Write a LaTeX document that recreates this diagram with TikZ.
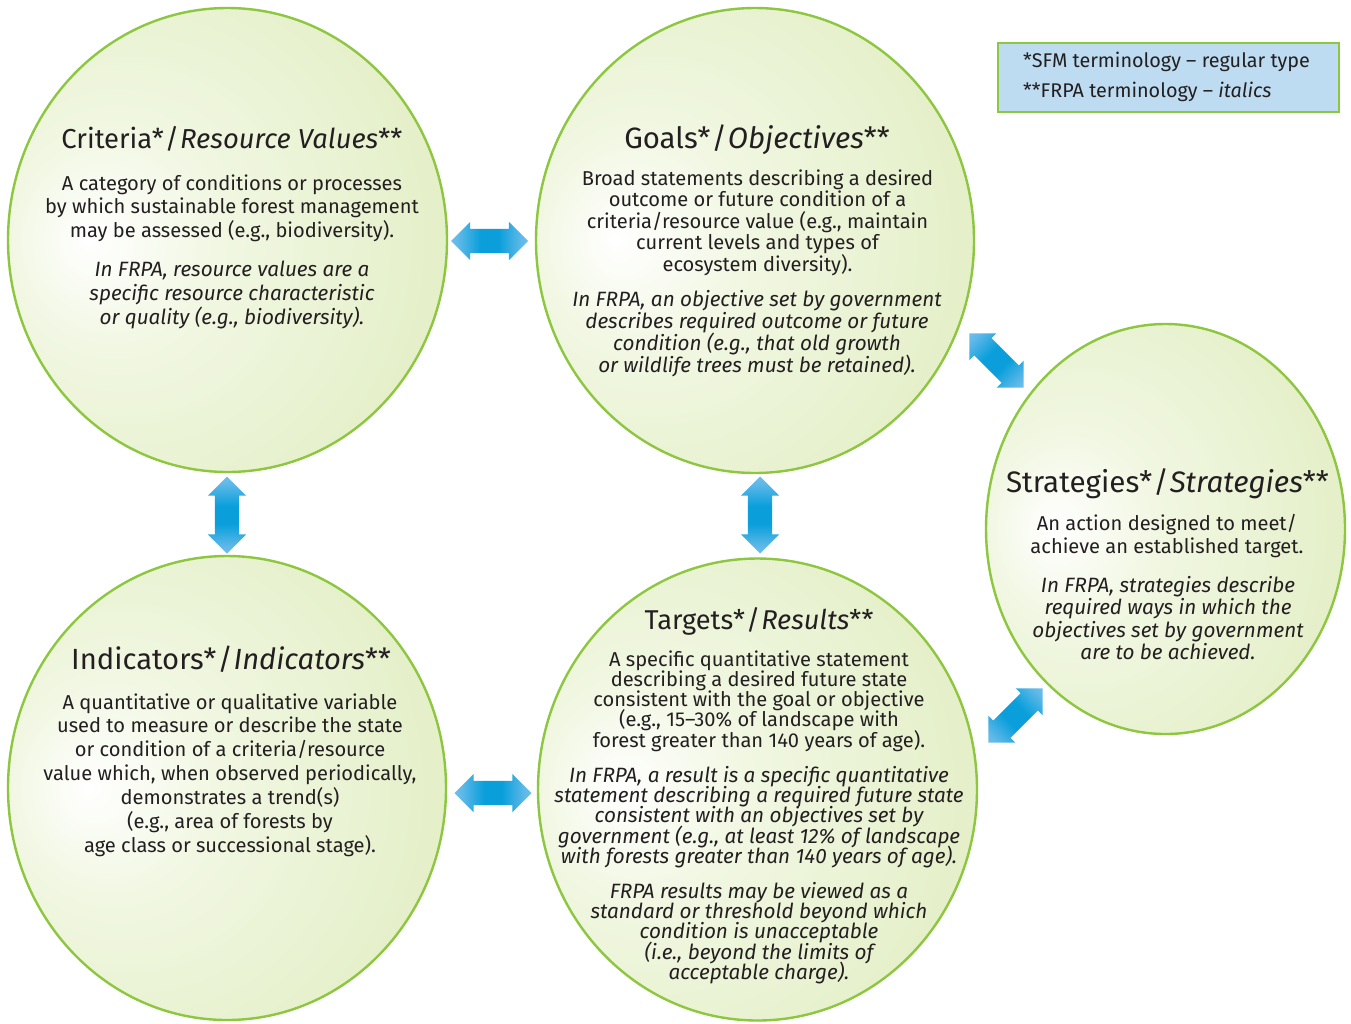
\documentclass[tikz,border=0pt]{standalone}
\usepackage{fontspec}
\setmainfont{Fira Sans}
\usetikzlibrary{shapes.geometric,shapes.arrows}
\definecolor{ringgreen}{HTML}{8DC63F}
\definecolor{gw1}{HTML}{F1F7E2}
\definecolor{gw2}{HTML}{E3EFC6}
\definecolor{gw3}{HTML}{D3E5A2}
\definecolor{al}{HTML}{C6E3F7}
\definecolor{am}{HTML}{5DB8E8}
\definecolor{ad}{HTML}{0A9FDB}
\definecolor{legblue}{HTML}{BDDCF1}
\definecolor{txt}{HTML}{231F20}
\pgfdeclareradialshading{greenball}{\pgfpoint{-16bp}{0bp}}{color(0bp)=(white); color(12bp)=(gw1); color(35bp)=(gw2); color(66bp)=(gw3)}
\pgfdeclarehorizontalshading{arrshade}{100bp}{color(0bp)=(al); color(30bp)=(am); color(44bp)=(ad); color(56bp)=(ad); color(70bp)=(am); color(100bp)=(al)}
\begin{document}
\begin{tikzpicture}[x=1pt,y=-1pt,
  ball/.style={ellipse, draw=ringgreen, line width=2.4pt, shade, shading=greenball, inner sep=0pt, outer sep=0pt},
  ttl/.style={anchor=base, inner sep=0pt, text=txt},
  bod/.style={anchor=base, align=center, inner sep=0pt, text=txt, execute at begin node={\lineskiplimit=-100pt\lineskip=0pt}},
  dbl/.style={double arrow, double arrow head extend=7pt, minimum height=77pt, inner xsep=0pt, inner ysep=12pt, shade, shading=arrshade, draw=none},
  legendbox/.style={draw=ringgreen, line width=2.4pt, fill=legblue, inner sep=0pt, minimum width=341pt, minimum height=69pt}
]
\useasboundingbox[fill=white] (0,0) rectangle (1351,1023);

% circles
\node[ball, minimum width=439pt, minimum height=464pt] (c1) at (227.5,240) {};
\node[ball, minimum width=438pt, minimum height=465pt] (c2) at (755,240.5) {};
\node[ball, minimum width=359pt, minimum height=410pt] (c3) at (1165.5,529) {};
\node[ball, minimum width=438pt, minimum height=464pt] (c4) at (227,788) {};
\node[ball, minimum width=439pt, minimum height=462pt] (c5) at (757.5,789.5) {};

% legend
\node[legendbox] (leg) at (1168.5,77.5) {};
\node[anchor=base west, align=left, inner sep=0pt, text=txt, font=\fontsize{19.8}{30}\selectfont] (legt) at (1023,97.7)
  {*SFM terminology -- regular type\\**FRPA terminology -- \textit{italics}};

% circle 1
\node[ttl, font=\fontsize{27.4}{32}\selectfont] (t1) at (232,148) {Criteria*\kern1pt/\kern1pt\textit{Resource Values}**};
\node[bod, font=\fontsize{20.1}{23.5}\selectfont] (b1) at (232,237)
  {A category of conditions or processes\\by which sustainable forest management\\may be assessed (e.g., biodiversity).};
\node[bod, font=\fontsize{20.7}{24}\selectfont\itshape] (i1) at (232,324)
  {In FRPA, resource values are a\\specific resource characteristic\\or quality (e.g., biodiversity).};

% circle 2
\node[ttl, font=\fontsize{29.4}{32}\selectfont] (t2) at (757,148) {Goals*\kern1pt/\kern1pt\textit{Objectives}**};
\node[bod, font=\fontsize{20.1}{21.5}\selectfont] (b2) at (757.5,271)
  {Broad statements describing a desired\\outcome or future condition of a\\criteria/resource value (e.g., maintain\\current levels and types of\\ecosystem diversity).};
\node[bod, font=\fontsize{20.7}{21.7}\selectfont\itshape] (i2) at (757,372)
  {In FRPA, an objective set by government\\describes required outcome or future\\condition (e.g., that old growth\\or wildlife trees must be retained).};

% circle 3
\node[ttl, font=\fontsize{29.6}{32}\selectfont] (t3) at (1167.5,492) {Strategies*\kern1pt/\kern1pt\textit{Strategies}**};
\node[bod, font=\fontsize{20.1}{23}\selectfont] (b3) at (1167,553)
  {An action designed to meet/\\achieve an established target.};
\node[bod, font=\fontsize{20.7}{22.5}\selectfont\itshape] (i3) at (1168,659.5)
  {In FRPA, strategies describe\\required ways in which the\\objectives set by government\\are to be achieved.};

% circle 4
\node[ttl, font=\fontsize{29.2}{32}\selectfont] (t4) at (231,669) {Indicators*\kern1pt/\kern1pt\textit{Indicators}**};
\node[bod, font=\fontsize{20.1}{23.9}\selectfont] (b4) at (230,852.4)
  {A quantitative or qualitative variable\\used to measure or describe the state\\or condition of a criteria/resource\\value which, when observed periodically,\\demonstrates a trend(s)\\(e.g., area of forests by\\age class or successional stage).};

% circle 5
\node[ttl, font=\fontsize{27.2}{32}\selectfont] (t5) at (759,629) {Targets*\kern1pt/\kern1pt\textit{Results}**};
\node[bod, font=\fontsize{20.1}{20.3}\selectfont] (b5) at (759,747.2)
  {A specific quantitative statement\\describing a desired future state\\consistent with the goal or objective\\(e.g., 15--30\% of landscape with\\forest greater than 140 years of age).};
\node[bod, font=\fontsize{20.7}{20.4}\selectfont\itshape] (i5) at (759,863.6)
  {In FRPA, a result is a specific quantitative\\statement describing a required future state\\consistent with an objectives set by\\government (e.g., at least 12\% of landscape\\with forests greater than 140 years of age).};
\node[bod, font=\fontsize{20.7}{20.4}\selectfont\itshape] (j5) at (759,979.6)
  {FRPA results may be viewed as a\\standard or threshold beyond which\\condition is unacceptable\\(i.e., beyond the limits of\\acceptable charge).};

% block arrows
\node[dbl] (a12) at (489.5,241) {};
\node[dbl] (a45) at (493,793) {};
\begin{scope}[transform canvas={shift={(227,515)}, rotate=90}]
  \node[dbl] (a14) at (0,0) {};
\end{scope}
\begin{scope}[transform canvas={shift={(760,515)}, rotate=90}]
  \node[dbl] (a25) at (0,0) {};
\end{scope}
\begin{scope}[transform canvas={shift={(996.5,360.5)}, rotate=-45}]
  \node[dbl] (a23) at (0,0) {};
\end{scope}
\begin{scope}[transform canvas={shift={(1015.5,715.5)}, rotate=45}]
  \node[dbl] (a35) at (0,0) {};
\end{scope}
\end{tikzpicture}
\end{document}
